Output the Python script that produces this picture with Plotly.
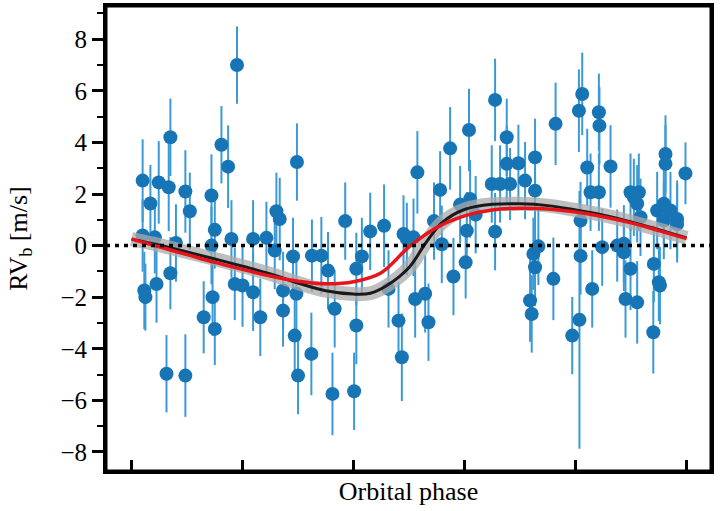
import plotly.graph_objects as go

# ---------------- data ----------------
phase = [0.020, 0.020, 0.023, 0.025, 0.034, 0.042, 0.045, 0.049, 0.063, 0.067,
         0.070, 0.070, 0.080, 0.097, 0.097, 0.105, 0.130, 0.144, 0.146, 0.150,
         0.150, 0.144, 0.162, 0.174, 0.180, 0.186, 0.190, 0.200, 0.219, 0.219,
         0.232, 0.243, 0.258, 0.261, 0.267, 0.273, 0.273, 0.291, 0.294, 0.297,
         0.298, 0.300, 0.324, 0.325, 0.342, 0.354, 0.362, 0.366, 0.385, 0.401,
         0.405, 0.405, 0.415, 0.430, 0.455, 0.463, 0.481, 0.487, 0.490, 0.496,
         0.508, 0.511, 0.515, 0.529, 0.535, 0.545, 0.556, 0.559, 0.574, 0.580,
         0.592, 0.602, 0.604, 0.608, 0.610, 0.620, 0.649, 0.655, 0.655, 0.664,
         0.676, 0.676, 0.682, 0.697, 0.709, 0.718, 0.721, 0.724, 0.727, 0.727,
         0.727, 0.733, 0.760, 0.764, 0.794, 0.806, 0.807, 0.809, 0.809, 0.812,
         0.821, 0.827, 0.830, 0.842, 0.843, 0.842, 0.848, 0.863, 0.875, 0.887,
         0.887, 0.890, 0.899, 0.899, 0.905, 0.911, 0.911, 0.914, 0.917, 0.940,
         0.941, 0.947, 0.950, 0.952, 0.959, 0.959, 0.962, 0.962, 0.971, 0.983,
         0.983, 0.998]
rv = [2.52, 0.39, -1.74, -2.00, 1.63, 0.32, -1.49, 2.45, -4.97, 2.26,
      4.20, -1.07, 0.10, 2.10, -5.04, 1.33, -2.78, 1.94, -2.00, 0.61,
      -3.23, 0.00, 3.91, 3.06, 0.26, -1.49, 7.00, -1.55, -1.81, 0.26,
      -2.78, 0.30, -0.19, 1.33, 1.03, -1.74, -2.52, -0.42, -3.49, -1.87,
      3.24, -5.04, -4.20, -0.39, -0.39, -0.97, -5.75, -2.45, 0.95, -5.65,
      -3.10, -0.90, -0.42, 0.55, 0.77, -1.68, -2.91, -4.33, 0.45, 0.26,
      0.32, -2.07, 2.84, -1.87, -2.97, 0.95, 2.16, 0.05, 3.77, -1.20,
      1.59, -0.65, 0.58, 4.48, 1.81, 1.20, 2.39, 5.65, 0.54, 2.39,
      4.20, 3.17, 2.39, 3.19, 2.52, -2.13, -2.65, -0.32, 3.42, 2.13,
      -0.84, -0.03, -1.29, 4.72, -3.49, 5.23, -2.88, 0.97, -0.40, 5.88,
      3.03, 2.07, -1.68, 5.17, 4.65, 2.07, -0.06, 3.07, 0.00, -0.26,
      0.07, -2.07, 2.07, -0.90, 1.87, 1.62, -2.20, 2.07, 1.10, -3.36,
      -0.71, 1.36, -1.42, -1.55, 1.62, 0.97, 3.55, 3.17, 1.36, 1.03,
      0.84, 2.80]
rv_err = [1.6, 1.4, 1.5, 1.3, 1.5, 1.4, 1.5, 1.6, 1.5, 1.7,
          1.5, 1.4, 1.5, 1.6, 1.6, 1.5, 1.4, 1.6, 1.5, 1.5,
          1.4, 1.5, 1.5, 1.6, 1.5, 1.4, 1.5, 1.6, 1.5, 1.5,
          1.5, 1.4, 1.5, 1.5, 1.6, 1.5, 1.4, 1.5, 1.6, 1.5,
          1.5, 1.5, 1.6, 1.4, 1.5, 1.5, 1.6, 1.5, 1.5, 1.5,
          1.5, 1.4, 1.5, 1.5, 1.6, 1.5, 1.5, 1.7, 1.5, 1.4,
          1.5, 1.5, 1.6, 1.5, 1.5, 1.5, 1.5, 1.5, 1.6, 1.5,
          1.5, 1.4, 1.5, 1.6, 1.5, 1.5, 1.5, 1.6, 1.5, 1.5,
          1.5, 1.5, 1.4, 1.5, 1.5, 1.6, 1.5, 1.4, 1.5, 1.5,
          1.5, 1.5, 1.6, 1.6, 1.5, 1.6, 5.0, 1.5, 1.5, 1.6,
          1.5, 1.5, 1.5, 1.5, 1.5, 1.5, 1.5, 1.6, 1.4, 1.5,
          1.5, 1.5, 1.5, 1.6, 1.5, 1.5, 1.6, 1.5, 1.5, 1.6,
          1.5, 1.5, 1.5, 1.5, 1.6, 1.5, 1.5, 1.5, 1.5, 1.5,
          1.5, 1.2]

model_phase = [0.00, 0.05, 0.10, 0.15, 0.20, 0.25, 0.30, 0.35, 0.40, 0.43,
               0.46, 0.50, 0.53, 0.56, 0.60, 0.65, 0.70, 0.75, 0.80, 0.85,
               0.90, 0.95, 1.00]
kepler_rv = [0.25, 0.02, -0.25, -0.52, -0.80, -1.10, -1.45, -1.75, -1.88, -1.85,
             -1.55, -0.85, 0.10, 0.90, 1.40, 1.60, 1.62, 1.55, 1.38, 1.18,
             0.92, 0.62, 0.30]

gp_phase = [0.00, 0.05, 0.10, 0.15, 0.20, 0.25, 0.30, 0.35, 0.40, 0.45,
            0.50, 0.55, 0.60, 0.65, 0.70, 0.75, 0.80, 0.85, 0.90, 0.95, 1.00]
gp_rv = [0.25, -0.05, -0.35, -0.65, -0.92, -1.18, -1.38, -1.48, -1.40, -1.05,
         -0.05, 0.70, 1.15, 1.38, 1.45, 1.42, 1.30, 1.12, 0.88, 0.58, 0.27]

x_ticks = [0.0, 0.2, 0.4, 0.6, 0.8, 1.0]
y_ticks = [-8, -6, -4, -2, 0, 2, 4, 6, 8]

FONT = "Liberation Serif"

fig = go.Figure()

fig.add_trace(go.Scatter(
    x=phase, y=rv, mode="markers",
    marker=dict(size=14, color="#1775b5"),
    error_y=dict(type="data", array=rv_err, visible=True,
                 color="#3b9ad6", thickness=2, width=0),
    showlegend=False, hoverinfo="skip"))

fig.add_trace(go.Scatter(
    x=model_phase, y=kepler_rv, mode="lines", line_shape="spline",
    line=dict(color="rgba(170,170,170,0.75)", width=14),
    showlegend=False, hoverinfo="skip"))

fig.add_trace(go.Scatter(
    x=model_phase, y=kepler_rv, mode="lines", line_shape="spline",
    line=dict(color="#1a1a1a", width=3),
    showlegend=False, hoverinfo="skip"))

fig.add_trace(go.Scatter(
    x=gp_phase, y=gp_rv, mode="lines", line_shape="spline",
    line=dict(color="#e8141b", width=3.5),
    showlegend=False, hoverinfo="skip"))

fig.add_shape(type="line", xref="paper", yref="y", x0=0, x1=1, y0=0, y1=0,
              line=dict(color="black", width=3.5, dash="4px,5px"), layer="above")

# frame around the plotting area
fig.add_shape(type="rect", xref="paper", yref="paper", x0=0, x1=1, y0=0, y1=1,
              line=dict(color="black", width=3), layer="above")

fig.update_layout(
    width=720, height=511, autosize=False,
    margin=dict(l=106, r=9, t=6, b=40, autoexpand=False),
    paper_bgcolor="white", plot_bgcolor="white",
    font=dict(family=FONT, color="black", size=24),
)

fig.update_xaxes(
    range=[-0.046, 1.044], tickvals=x_ticks, showticklabels=False,
    ticks="inside", ticklen=11, tickwidth=2.5, tickcolor="black",
    showline=True, linewidth=3, linecolor="black", mirror=True,
    showgrid=False, zeroline=False, automargin=False,
    title=dict(text="Orbital phase", font=dict(family=FONT, size=26), standoff=9),
)

fig.update_yaxes(
    range=[-8.74, 9.29], tickvals=y_ticks,
    ticks="outside", ticklen=11, tickwidth=2.5, tickcolor="black",
    tickfont=dict(family=FONT, size=25),
    minor=dict(dtick=1, ticks="outside", ticklen=6, tickwidth=2, tickcolor="black"),
    showline=True, linewidth=3, linecolor="black", mirror=True,
    showgrid=False, zeroline=False, automargin=False,
    title=dict(text="RV<sub>b</sub> [m/s]", font=dict(family=FONT, size=26), standoff=26),
)

fig.write_html("out.html",
               config={"displayModeBar": False},
               post_script="document.body.style.margin='0';document.body.style.padding='0';")
